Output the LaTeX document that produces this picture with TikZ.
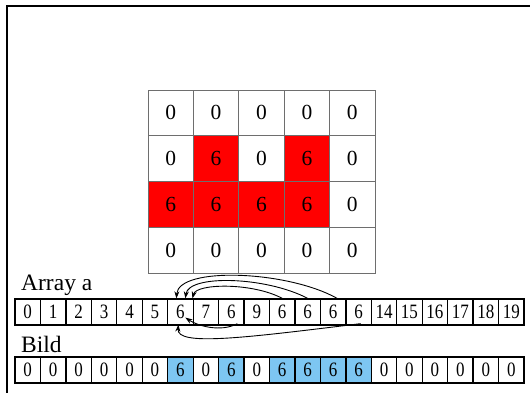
\documentclass[tikz,border=0pt]{standalone}
\usepackage{fontspec}
\setmainfont{Liberation Serif}
\usetikzlibrary{arrows.meta}
\definecolor{cellred}{RGB}{255,0,0}
\definecolor{cellblue}{RGB}{125,198,242}
\definecolor{gridgray}{RGB}{110,110,110}
\newcommand{\tallnum}[1]{\scalebox{1}[1.2]{#1}}
\tikzset{
  gcell/.style={draw=gridgray, line width=0.7pt, minimum width=45.4pt, minimum height=45.75pt, inner sep=0pt, font=\fontsize{21.5}{21.5}\selectfont},
  acell/.style={draw=black, line width=1.3pt, minimum width=25.45pt, minimum height=26pt, inner sep=0pt, font=\fontsize{17}{17}\selectfont},
  lbl/.style={anchor=base west, inner sep=0pt, font=\fontsize{23.5}{23.5}\selectfont},
  arr/.style={line width=0.9pt, -{Stealth[length=7pt,width=5pt]}},
}
\begin{document}
\begin{tikzpicture}[x=1pt,y=-1pt]
\useasboundingbox (0,0) rectangle (530,392);
\begin{scope}
\clip (0,0) rectangle (530,392);
\draw[line width=2pt] (7,400) -- (7,6) -- (540,6);
\end{scope}
% grid
\foreach \r/\row in {0/{0,0,0,0,0},1/{0,6,0,6,0},2/{6,6,6,6,0},3/{0,0,0,0,0}}{
  \foreach \v [count=\c from 0] in \row {
    \ifnum\v=6
      \node[gcell, fill=cellred] (g-\r-\c) at ({148+(\c+0.5)*45.4},{90+(\r+0.5)*45.75}) {\v};
    \else
      \node[gcell] (g-\r-\c) at ({148+(\c+0.5)*45.4},{90+(\r+0.5)*45.75}) {\v};
    \fi
  }
}
% labels
\node[lbl] (la) at (21,290) {Array a};
\node[lbl] (lb) at (21,352) {Bild};
% Array a
\foreach \v [count=\i from 0] in {0,1,2,3,4,5,6,7,6,9,6,6,6,6,14,15,16,17,18,19}{
  \node[acell] (a-\i) at ({15+(\i+0.5)*25.45},312) {\tallnum{\v}};
}
% Bild
\foreach \v/\f [count=\i from 0] in {0/white,0/white,0/white,0/white,0/white,0/white,6/cellblue,0/white,6/cellblue,0/white,6/cellblue,6/cellblue,6/cellblue,6/cellblue,0/white,0/white,0/white,0/white,0/white,0/white}{
  \node[acell, fill=\f] (b-\i) at ({15+(\i+0.5)*25.45},370) {\tallnum{\v}};
}
% top arrows
\draw[arr] ([xshift=4pt]a-12.north) .. controls +(-50,-28) and +(2,-32) .. ([xshift=-4pt]a-6.north);
\draw[arr] (a-11.north) .. controls +(-42,-22) and +(3,-24) .. ([xshift=5pt]a-6.north);
\draw[arr] (a-10.north) .. controls +(-30,-16) and +(4,-15) .. ([xshift=12pt]a-6.north);
% bottom arrows
\draw[arr] ([xshift=6pt,yshift=2pt]a-8.south) .. controls +(-17,9) and +(12,8) .. ([xshift=5pt,yshift=8pt]a-6.south);
\draw[arr] ([xshift=2pt,yshift=2pt]a-13.south) .. controls +(-115,14) and +(-2,22) .. ([xshift=-2pt,yshift=1pt]a-6.south);
\end{tikzpicture}
\end{document}
